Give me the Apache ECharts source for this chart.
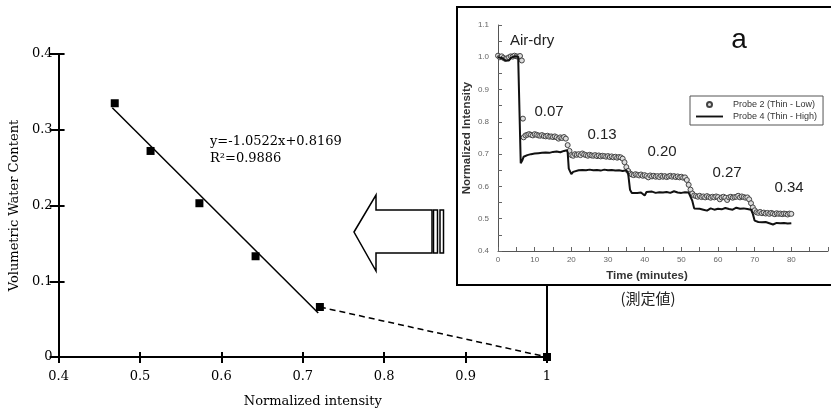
<!DOCTYPE html>
<html>
<head>
<meta charset="utf-8">
<script src="https://cdn.jsdelivr.net/npm/echarts@6/dist/echarts.min.js"></script>
<style>
  html, body { margin: 0; padding: 0; background: #fff; }
  #main { width: 831px; height: 414px; }
</style>
</head>
<body>
<div id="main"></div>
<script>
// main calibration plot
var intensity = [0.469, 0.513, 0.573, 0.642, 0.721, 1.0];
var waterContent = [0.335, 0.272, 0.203, 0.133, 0.066, 0];
var fitLine = [[0.466, 0.329], [0.719, 0.058]];
var dashLine = [[0.721, 0.066], [1.0, 0]];
var mainXTicks = { min: 0.4, max: 1, interval: 0.1 };
var mainYTicks = { min: 0, max: 0.4, interval: 0.1 };

// inset: normalized intensity vs time
var probe2 = [
  [0, 1.005], [0.5, 1.0], [1, 1.003], [1.5, 0.998], [2, 0.995], [2.5, 0.997], [3, 1.0], [3.5, 1.003],
  [4, 1.002], [4.5, 1.005], [5, 1.003], [5.5, 1.002], [6, 1.004], [6.5, 0.99], [6.8, 0.81],
  [7, 0.752], [7.5, 0.758], [8, 0.76], [8.5, 0.762], [9, 0.76], [9.5, 0.758], [10, 0.762], [10.5, 0.76],
  [11, 0.758], [11.5, 0.757], [12, 0.759], [12.5, 0.756], [13, 0.755], [13.5, 0.757], [14, 0.754],
  [14.5, 0.755], [15, 0.753], [15.5, 0.755], [16, 0.752], [16.5, 0.748], [17, 0.752], [17.5, 0.75],
  [18, 0.753], [18.5, 0.748], [19, 0.728], [19.5, 0.71], [20, 0.697], [20.5, 0.695], [21, 0.7],
  [21.5, 0.698], [22, 0.7], [22.5, 0.697], [23, 0.702], [23.5, 0.699], [24, 0.697], [24.5, 0.695],
  [25, 0.698], [25.5, 0.696], [26, 0.695], [26.5, 0.697], [27, 0.694], [27.5, 0.696], [28, 0.693],
  [28.5, 0.695], [29, 0.694], [29.5, 0.692], [30, 0.694], [30.5, 0.691], [31, 0.693], [31.5, 0.69],
  [32, 0.692], [32.5, 0.689], [33, 0.691], [33.5, 0.69], [34, 0.686], [34.5, 0.675], [35, 0.66],
  [35.5, 0.648], [36, 0.64], [36.5, 0.637], [37, 0.635], [37.5, 0.638], [38, 0.636], [38.5, 0.634],
  [39, 0.637], [39.5, 0.633], [40, 0.635], [40.5, 0.632], [41, 0.628], [41.5, 0.634], [42, 0.631],
  [42.5, 0.633], [43, 0.63], [43.5, 0.632], [44, 0.629], [44.5, 0.633], [45, 0.63], [45.5, 0.632],
  [46, 0.629], [46.5, 0.631], [47, 0.633], [47.5, 0.63], [48, 0.632], [48.5, 0.629], [49, 0.631],
  [49.5, 0.628], [50, 0.63], [50.5, 0.627], [51, 0.628], [51.5, 0.62], [52, 0.605], [52.5, 0.59],
  [53, 0.578], [53.5, 0.572], [54, 0.57], [54.5, 0.568], [55, 0.571], [55.5, 0.567], [56, 0.569],
  [56.5, 0.566], [57, 0.57], [57.5, 0.567], [58, 0.565], [58.5, 0.568], [59, 0.566], [59.5, 0.569],
  [60, 0.567], [60.5, 0.56], [61, 0.566], [61.5, 0.568], [62, 0.565], [62.5, 0.558], [63, 0.566],
  [63.5, 0.568], [64, 0.565], [64.5, 0.567], [65, 0.568], [65.5, 0.571], [66, 0.566], [66.5, 0.569],
  [67, 0.567], [67.5, 0.565], [68, 0.566], [68.5, 0.56], [69, 0.548], [69.5, 0.535], [70, 0.526],
  [70.5, 0.52], [71, 0.518], [71.5, 0.521], [72, 0.517], [72.5, 0.519], [73, 0.516], [73.5, 0.518],
  [74, 0.515], [74.5, 0.518], [75, 0.516], [75.5, 0.514], [76, 0.517], [76.5, 0.515], [77, 0.516],
  [77.5, 0.514], [78, 0.516], [78.5, 0.515], [79, 0.513], [79.5, 0.516], [80, 0.515]
];
var probe4 = [
  [0, 1.0], [0.5, 1.005], [1, 0.998], [1.5, 0.993], [2, 0.99], [2.5, 0.995], [3, 0.99], [3.5, 0.998],
  [4, 1.0], [4.5, 1.003], [5, 1.0], [5.5, 1.002], [6, 1.0], [6.2, 0.672], [6.6, 0.68], [7, 0.692],
  [8, 0.697], [9, 0.7], [10, 0.702], [11, 0.703], [12, 0.704], [13, 0.705], [14, 0.704], [15, 0.707],
  [16, 0.708], [17, 0.706], [18, 0.71], [18.8, 0.712], [19, 0.705], [19.3, 0.655], [20, 0.638],
  [20.5, 0.645], [21, 0.648], [22, 0.65], [23, 0.651], [24, 0.65], [25, 0.652], [26, 0.65], [27, 0.651],
  [28, 0.649], [29, 0.652], [30, 0.65], [31, 0.651], [32, 0.649], [33, 0.65], [34, 0.648], [35, 0.65],
  [35.5, 0.64], [36, 0.59], [36.5, 0.58], [37, 0.582], [38, 0.58], [39, 0.581], [40, 0.572],
  [40.5, 0.583], [41, 0.58], [42, 0.584], [43, 0.58], [44, 0.582], [45, 0.581], [46, 0.583], [47, 0.58],
  [48, 0.585], [49, 0.581], [50, 0.58], [51, 0.582], [52, 0.581], [52.5, 0.578], [53, 0.555],
  [53.5, 0.532], [54, 0.53], [55, 0.531], [56, 0.528], [57, 0.525], [57.5, 0.53], [58, 0.532],
  [59, 0.528], [60, 0.531], [61, 0.529], [62, 0.533], [63, 0.53], [64, 0.528], [65, 0.534], [66, 0.531],
  [67, 0.532], [68, 0.53], [69, 0.528], [69.5, 0.515], [70, 0.494], [71, 0.49], [72, 0.489], [73, 0.49],
  [74, 0.486], [75, 0.482], [75.5, 0.488], [76, 0.487], [77, 0.486], [78, 0.487], [79, 0.485], [80, 0.486]
];
var stepLabels = ['0.07', '0.13', '0.20', '0.27', '0.34'];
var seriesNames = ['Probe 2 (Thin - Low)', 'Probe 4 (Thin - High)'];

var serif = 'DejaVu Serif';
var sans = 'Liberation Sans, Arial, sans-serif';

var myChart = echarts.init(document.getElementById('main'));

var mainPoints = intensity.map(function (x, i) { return [x, waterContent[i]]; });

// label positions in pixels for the step annotations
var stepPos = [[549, 112], [602, 135], [662, 152], [727, 173], [789, 188]];
var stepText = stepLabels.map(function (t, i) {
  return {
    type: 'text', z: 30,
    x: stepPos[i][0], y: stepPos[i][1],
    style: { text: t, fill: '#222', font: '15px ' + sans, align: 'center', verticalAlign: 'middle' }
  };
});

var option = {
  animation: false,
  backgroundColor: '#fff',
  grid: [
    { left: 56, top: 54, width: 491, height: 303 },
    { left: 498, top: 25, width: 344, height: 226 }
  ],
  xAxis: [
    {
      gridIndex: 0, type: 'value', position: 'bottom',
      min: mainXTicks.min, max: mainXTicks.max, interval: mainXTicks.interval,
      axisLine: { lineStyle: { color: '#000', width: 2 } },
      axisTick: { length: 6, lineStyle: { color: '#000', width: 2 } },
      axisLabel: { margin: 13, color: '#000', fontFamily: serif, fontSize: 13 },
      splitLine: { show: false },
      name: 'Normalized intensity', nameLocation: 'middle', nameGap: 38,
      nameTextStyle: { color: '#000', fontFamily: serif, fontSize: 13, padding: [0, 0, 0, 20] }
    },
    {
      gridIndex: 0, type: 'value', position: 'bottom',
      min: mainXTicks.min, max: mainXTicks.max, interval: mainXTicks.interval,
      axisLine: { show: false },
      axisTick: { inside: true, length: 5, lineStyle: { color: '#000', width: 2 } },
      axisLabel: { show: false }, splitLine: { show: false }
    },
    {
      gridIndex: 0, type: 'value', position: 'top',
      min: mainXTicks.min, max: mainXTicks.max,
      axisLine: { lineStyle: { color: '#000', width: 2 } },
      axisTick: { show: false }, axisLabel: { show: false }, splitLine: { show: false }
    },
    {
      gridIndex: 1, type: 'value', min: 0, max: 90, interval: 5, z: 6,
      axisLine: { lineStyle: { color: '#555', width: 1 } },
      axisTick: { inside: true, length: 4, lineStyle: { color: '#666' } },
      axisLabel: {
        margin: 5, color: '#666', fontFamily: sans, fontSize: 8,
        formatter: function (v) { return (v % 10 === 0 && v <= 80) ? String(v) : ''; }
      },
      splitLine: { show: false },
      name: 'Time (minutes)', nameLocation: 'middle', nameGap: 19,
      nameTextStyle: { color: '#333', fontFamily: sans, fontSize: 11.5, fontWeight: 'bold', padding: [0, 32, 0, 0] }
    }
  ],
  yAxis: [
    {
      gridIndex: 0, type: 'value', position: 'left',
      min: mainYTicks.min, max: mainYTicks.max, interval: mainYTicks.interval,
      axisLine: { show: true, lineStyle: { color: '#000', width: 2 } },
      axisTick: { show: true, length: 9, lineStyle: { color: '#000', width: 2 } },
      axisLabel: { margin: 6, color: '#000', fontFamily: serif, fontSize: 13 },
      splitLine: { show: false },
      name: 'Volumetric Water Content', nameLocation: 'middle', nameGap: 33,
      nameTextStyle: { color: '#000', fontFamily: serif, fontSize: 13 }
    },
    {
      gridIndex: 0, type: 'value', position: 'left',
      min: mainYTicks.min, max: mainYTicks.max, interval: mainYTicks.interval,
      axisLine: { show: false },
      axisTick: { show: true, inside: true, length: 6, lineStyle: { color: '#000', width: 2 } },
      axisLabel: { show: false }, splitLine: { show: false }
    },
    {
      gridIndex: 0, type: 'value', position: 'right',
      min: mainYTicks.min, max: mainYTicks.max,
      axisLine: { show: true, lineStyle: { color: '#000', width: 2 } },
      axisTick: { show: false }, axisLabel: { show: false }, splitLine: { show: false }
    },
    {
      gridIndex: 1, type: 'value', min: 0.4, max: 1.1, interval: 0.05, z: 6,
      axisLine: { show: true, lineStyle: { color: '#555', width: 1 } },
      axisTick: { show: true, inside: true, length: 4, lineStyle: { color: '#666' } },
      axisLabel: {
        margin: 9, color: '#666', fontFamily: sans, fontSize: 8,
        formatter: function (v) { return Math.round(v * 100) % 10 === 0 ? v.toFixed(1) : ''; }
      },
      splitLine: { show: false },
      name: 'Normalized Intensity', nameLocation: 'middle', nameGap: 25,
      nameTextStyle: { color: '#333', fontFamily: sans, fontSize: 11.5, fontWeight: 'bold' }
    }
  ],
  legend: {
    data: [
      { name: seriesNames[0], icon: 'circle' },
      { name: seriesNames[1], icon: 'path://M0 0H100V7H0Z' }
    ],
    orient: 'vertical', left: 690, top: 96, z: 20,
    itemWidth: 27, itemHeight: 5, itemGap: 3,
    padding: [4, 6, 4, 6],
    backgroundColor: '#fff', borderColor: '#555', borderWidth: 1,
    textStyle: { color: '#333', fontFamily: sans, fontSize: 9, padding: [0, 0, 0, 5] }
  },
  series: [
    {
      type: 'line', xAxisIndex: 0, yAxisIndex: 0, data: fitLine,
      symbol: 'none', lineStyle: { color: '#000', width: 1.5 }
    },
    {
      type: 'line', xAxisIndex: 0, yAxisIndex: 0, data: dashLine,
      symbol: 'none', lineStyle: { color: '#000', width: 1.5, type: [6, 4] }
    },
    {
      type: 'scatter', xAxisIndex: 0, yAxisIndex: 0, data: mainPoints,
      symbol: 'rect', symbolSize: 8, itemStyle: { color: '#000', opacity: 1 }, z: 4
    },
    {
      name: seriesNames[0], type: 'scatter', xAxisIndex: 3, yAxisIndex: 3, data: probe2, z: 12,
      symbol: 'circle', symbolSize: 5,
      itemStyle: { color: '#ddd', borderColor: '#444', borderWidth: 1, opacity: 1 }
    },
    {
      name: seriesNames[1], type: 'line', xAxisIndex: 3, yAxisIndex: 3, data: probe4, z: 13,
      symbol: 'none', lineStyle: { color: '#111', width: 2 }, itemStyle: { color: '#111' }
    }
  ],
  graphic: [
    // inset frame (covers the main frame behind it)
    {
      type: 'rect', z: 5,
      shape: { x: 457, y: 7, width: 390, height: 278 },
      style: { fill: '#fff', stroke: '#000', lineWidth: 2 }
    },
    // big left arrow
    {
      type: 'polygon', z: 5,
      shape: { points: [[354, 232], [376, 195], [376, 210], [432, 210], [432, 253], [376, 253], [376, 271]] },
      style: { fill: '#fff', stroke: '#000', lineWidth: 1.5 }
    },
    {
      type: 'rect', z: 5, shape: { x: 433.5, y: 210, width: 4, height: 43 },
      style: { fill: '#fff', stroke: '#000', lineWidth: 1.5 }
    },
    {
      type: 'rect', z: 5, shape: { x: 440, y: 210, width: 3.5, height: 43 },
      style: { fill: '#fff', stroke: '#000', lineWidth: 1.5 }
    },
    {
      type: 'text', z: 30, x: 210, y: 133,
      style: {
        text: 'y=-1.0522x+0.8169\nR²=0.9886', fill: '#000',
        font: '13px ' + serif, lineHeight: 17
      }
    },
    {
      type: 'text', z: 30, x: 510, y: 41,
      style: { text: 'Air-dry', fill: '#222', font: '15px ' + sans, verticalAlign: 'middle' }
    },
    {
      type: 'text', z: 30, x: 739, y: 40,
      style: { text: 'a', fill: '#111', font: '28px ' + sans, align: 'center', verticalAlign: 'middle' }
    },
    {
      type: 'text', z: 30, x: 648, y: 298,
      style: {
        text: '(測定値)', fill: '#222', font: '15px "Noto Sans CJK JP"',
        align: 'center', verticalAlign: 'middle'
      }
    }
  ].concat(stepText)
};

myChart.setOption(option);
</script>
</body>
</html>
